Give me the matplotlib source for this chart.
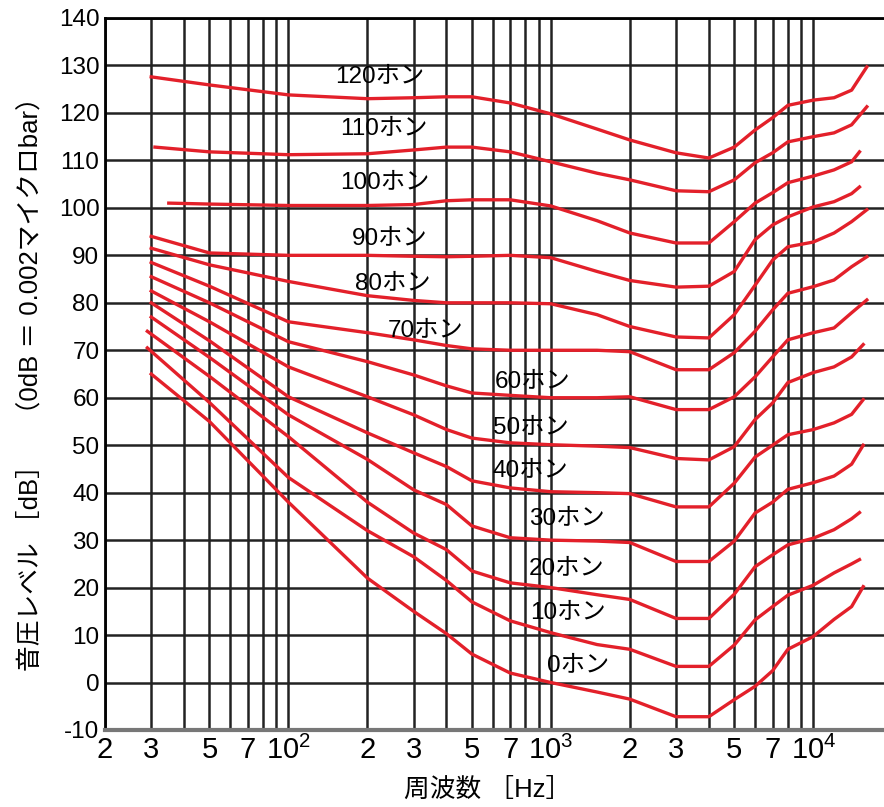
import matplotlib.pyplot as plt

plt.rcParams['font.family'] = ['Liberation Sans', 'Noto Sans CJK JP']
plt.rcParams['mathtext.fontset'] = 'custom'
plt.rcParams['mathtext.rm'] = 'Liberation Sans'

# 等ラウドネス曲線 (読み取り値)
freq = [30, 50, 100, 200, 300, 400, 500, 700, 1000, 1500, 2000,
        3000, 4000, 5000, 6000, 7000, 8000, 10000, 12000, 14000, 16000]
phon = [120, 110, 100, 90, 80, 70, 60, 50, 40, 30, 20, 10, 0]
start_hz = [30, 31, 35, 30, 30, 30, 30, 30, 30, 30, 29, 29, 30]
end_hz = [16000, 16000, 15000, 15000, 16000, 16000, 16000, 15500, 15500, 15500, 15000, 15000, 15500]

level_120 = [127.6, 125.9, 123.8, 123.0, 123.2, 123.4, 123.4, 122.1, 119.8, 116.6, 114.3,
             111.6, 110.5, 112.8, 116.4, 119.0, 121.6, 122.7, 123.2, 124.8, 129.7]
level_110 = [112.8, 111.8, 111.2, 111.4, 112.2, 112.8, 112.8, 111.8, 109.7, 107.3, 105.9,
             103.6, 103.4, 105.9, 109.5, 111.6, 113.9, 115.0, 115.8, 117.5, 121.3]
level_100 = [101.0, 100.8, 100.5, 100.5, 100.7, 101.5, 101.7, 101.7, 100.4, 97.3, 94.7,
             92.6, 92.6, 97.1, 101.0, 103.2, 105.3, 106.7, 108.0, 109.7, 111.8]
level_90 = [94.0, 90.5, 90.0, 90.0, 89.8, 89.7, 89.8, 90.0, 89.5, 86.6, 84.7,
            83.3, 83.5, 86.6, 93.3, 96.4, 98.1, 100.2, 101.3, 103.0, 104.4]
level_80 = [91.5, 88.0, 84.5, 81.5, 80.5, 80.0, 80.0, 80.0, 79.8, 77.5, 75.0,
            72.8, 72.6, 77.5, 83.7, 89.0, 91.8, 92.8, 94.7, 97.1, 99.6]
level_70 = [88.5, 83.5, 76.0, 73.7, 72.2, 71.0, 70.3, 70.0, 70.0, 70.0, 69.7,
            65.9, 65.9, 69.5, 74.0, 78.5, 82.0, 83.4, 84.8, 87.6, 89.7]
level_60 = [85.5, 80.0, 71.8, 67.6, 64.8, 62.5, 61.0, 60.5, 60.0, 60.0, 60.2,
            57.5, 57.5, 60.2, 64.4, 68.6, 72.2, 73.7, 74.7, 77.9, 80.6]
level_50 = [82.5, 76.0, 66.5, 60.2, 56.4, 53.3, 51.5, 50.5, 50.1, 49.8, 49.5,
            47.2, 46.9, 49.7, 55.4, 58.9, 63.2, 65.3, 66.5, 68.6, 71.2]
level_40 = [80.0, 72.0, 60.2, 52.6, 48.4, 45.5, 42.5, 41.0, 40.2, 40.0, 39.8,
            37.0, 37.0, 42.0, 47.5, 50.0, 52.2, 53.3, 54.7, 56.5, 59.6]
level_30 = [77.0, 68.5, 56.4, 47.0, 40.6, 37.5, 33.0, 30.5, 30.0, 29.8, 29.5,
            25.5, 25.5, 29.8, 35.7, 38.0, 40.7, 42.1, 43.5, 46.0, 50.0]
level_20 = [74.0, 64.5, 51.8, 38.0, 31.5, 28.0, 23.5, 21.0, 20.0, 18.5, 17.5,
            13.5, 13.5, 18.6, 24.4, 26.9, 29.0, 30.4, 32.2, 34.5, 35.8]
level_10 = [70.5, 59.0, 43.2, 32.0, 26.5, 21.5, 17.0, 13.0, 10.5, 8.0, 7.0,
            3.4, 3.4, 7.9, 13.2, 16.0, 18.4, 20.5, 23.1, 25.0, 25.9]
level_0 = [65.0, 55.0, 38.0, 22.0, 15.0, 10.3, 6.0, 2.0, 0.0, -2.0, -3.5,
           -7.2, -7.2, -3.6, -0.8, 2.5, 7.0, 9.7, 13.3, 16.0, 20.2]
levels = [level_120, level_110, level_100, level_90, level_80, level_70, level_60,
          level_50, level_40, level_30, level_20, level_10, level_0]

# ラベル位置
label_hz = [150, 157, 157, 174, 179, 240, 612, 601, 601, 827, 827, 836, 966]
label_db = [127.8, 116.8, 105.4, 93.6, 84.2, 74.3, 63.5, 53.8, 44.8, 34.7, 24.1, 14.9, 3.7]

x_major = [20, 30, 50, 70, 100, 200, 300, 500, 700, 1000, 2000, 3000, 5000, 7000, 10000]
x_labels = ['2', '3', '5', '7', r'$\mathregular{10^2}$', '2', '3', '5', '7',
            r'$\mathregular{10^3}$', '2', '3', '5', '7', r'$\mathregular{10^4}$']
x_minor = [40, 60, 80, 90, 400, 600, 800, 900, 4000, 6000, 8000, 9000]
y_ticks = list(range(-10, 141, 10))

fig = plt.figure(figsize=(8.84, 8.07), dpi=100)
ax = fig.add_axes([105 / 884, 77 / 807, 779 / 884, 712 / 807])
ax.set_xscale('log')
ax.set_xlim(20, 18600)
ax.set_ylim(-10, 140)

ax.set_xticks(x_major)
ax.set_xticklabels(x_labels)
ax.set_xticks(x_minor, minor=True)
ax.set_xticklabels([], minor=True)
ax.set_yticks(y_ticks)
ax.set_yticklabels([str(v) for v in y_ticks])

ax.set_axisbelow(True)
ax.grid(True, which='both', color='#222222', lw=1.8)
ax.tick_params(axis='both', which='both', length=0)
ax.tick_params(axis='x', labelsize=21, pad=4)
ax.tick_params(axis='y', labelsize=17.5, pad=4)

for side in ['left', 'top']:
    ax.spines[side].set_color('black')
    ax.spines[side].set_linewidth(2)
ax.spines['bottom'].set_color('#777777')
ax.spines['bottom'].set_linewidth(3)
ax.spines['right'].set_visible(False)

for i, lv in enumerate(levels):
    xs = [start_hz[i]] + freq[1:-1] + [end_hz[i]]
    ax.plot(xs, lv, color='#e3202a', lw=2.4, solid_joinstyle='round', zorder=3)
    ax.text(label_hz[i], label_db[i], f'{phon[i]}ホン', fontsize=17.5,
            ha='left', va='center', zorder=4)

fig.text(488 / 884, 1 - 790 / 807, '周波数 ［Hz］', fontsize=18.5, ha='center', va='center')
fig.text(30 / 884, 1 - 378 / 807, '音圧レベル ［dB］　（0dB ＝ 0.002マイクロbar）',
         fontsize=18.5, rotation=90, ha='center', va='center')

fig.savefig('out.png', dpi=100)
